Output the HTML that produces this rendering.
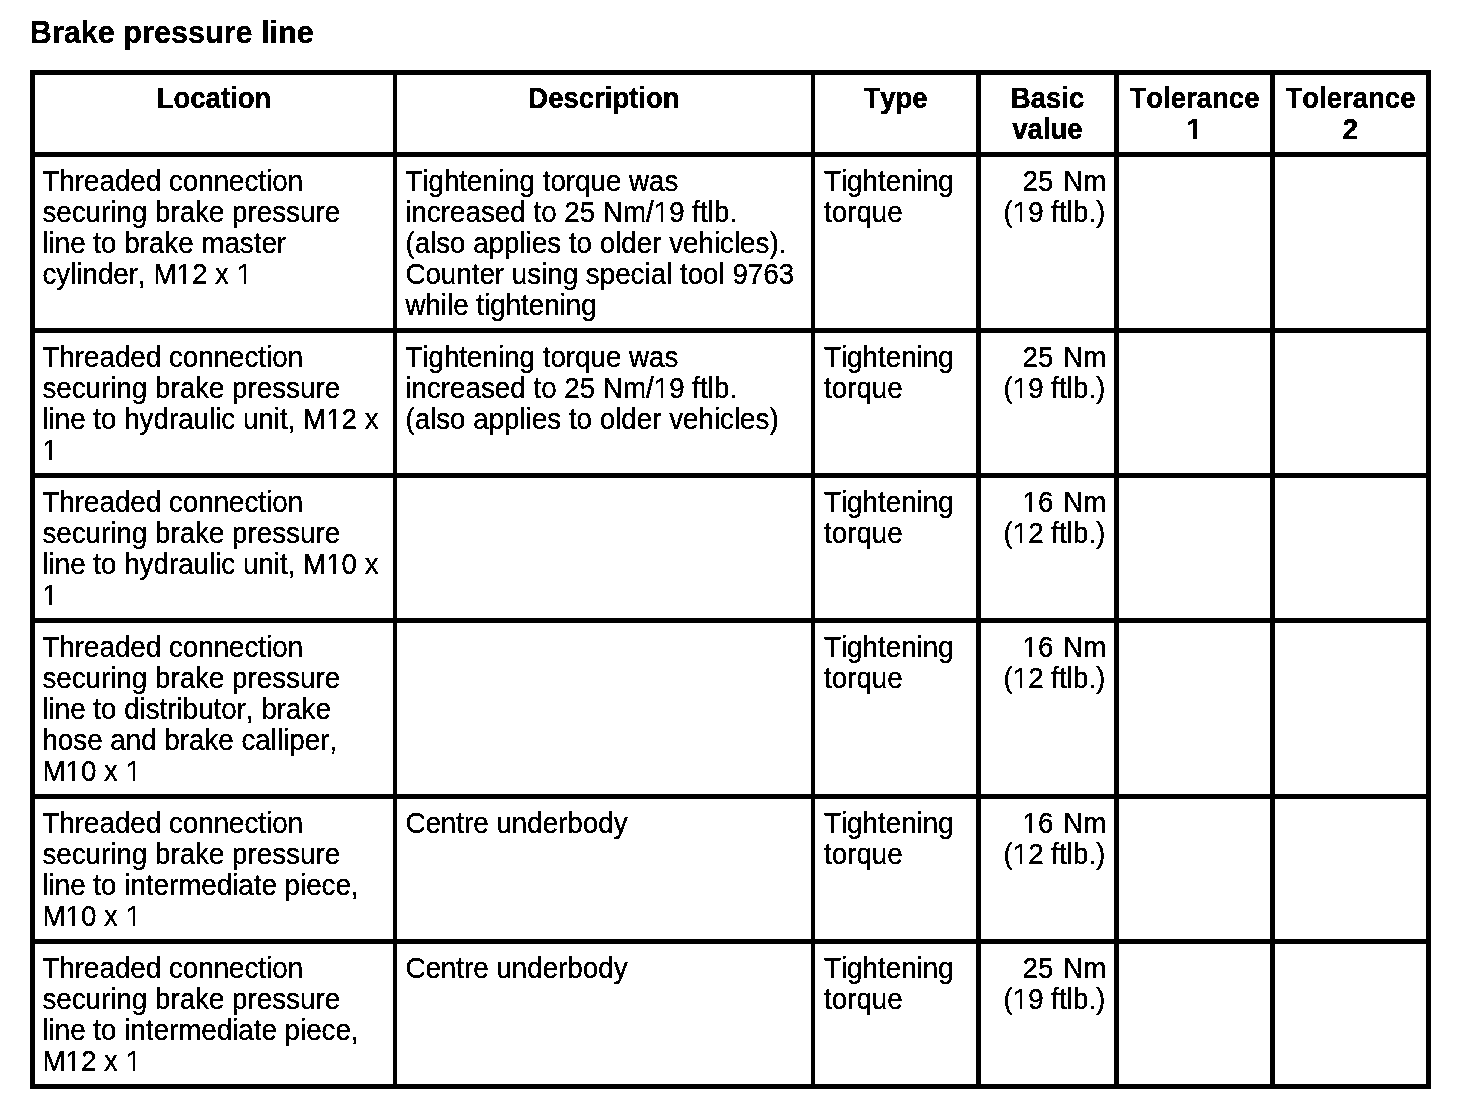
<!DOCTYPE html><html lang="en"><head><meta charset="utf-8"><title>Brake pressure line</title><style>
html,body{margin:0;padding:0;background:#fff;}
body{width:1472px;height:1118px;position:relative;overflow:hidden;font-family:"Liberation Sans",Arial,Helvetica,sans-serif;color:#000;font-kerning:none;font-variant-ligatures:none;}
.l{position:absolute;background:#000;}
.t,h1{filter:url(#bw);}
.t{position:absolute;white-space:nowrap;font-size:27.75px;transform-origin:0 0;}
.b{line-height:29.000px;transform:scaleY(1.0689655172413792);-webkit-text-stroke:0.3px #000;}
.h{font-size:27.5px;font-weight:bold;text-align:center;line-height:29.000px;transform:scaleY(1.0689655172413792);-webkit-text-stroke:0.35px #000;}
.r{text-align:right;}
.c{position:absolute;background:#fff;}
h1{position:absolute;margin:0;left:29.8px;top:14px;font-size:30.6px;line-height:36px;font-weight:bold;white-space:nowrap;-webkit-text-stroke:0.3px #000;}
</style></head><body>
<svg width="0" height="0" style="position:absolute"><filter id="bw" x="-5%" y="-25%" width="110%" height="150%" color-interpolation-filters="sRGB"><feComponentTransfer><feFuncA type="discrete" tableValues="0 1"/></feComponentTransfer></filter></svg>
<h1>Brake pressure line</h1>
<div class="l" style="left:30px;top:70px;width:5px;height:1019px"></div>
<div class="l" style="left:393px;top:70px;width:4px;height:1019px"></div>
<div class="l" style="left:811px;top:70px;width:4px;height:1019px"></div>
<div class="l" style="left:976px;top:70px;width:5px;height:1019px"></div>
<div class="l" style="left:1114px;top:70px;width:5px;height:1019px"></div>
<div class="l" style="left:1270px;top:70px;width:5px;height:1019px"></div>
<div class="l" style="left:1426px;top:70px;width:5px;height:1019px"></div>
<div class="l" style="left:30px;top:70px;width:1401px;height:5px"></div>
<div class="l" style="left:30px;top:152px;width:1401px;height:5px"></div>
<div class="l" style="left:30px;top:328px;width:1401px;height:5px"></div>
<div class="l" style="left:30px;top:473px;width:1401px;height:5px"></div>
<div class="l" style="left:30px;top:618px;width:1401px;height:5px"></div>
<div class="l" style="left:30px;top:794px;width:1401px;height:5px"></div>
<div class="l" style="left:30px;top:939px;width:1401px;height:5px"></div>
<div class="l" style="left:30px;top:1084px;width:1401px;height:5px"></div>
<div class="t h" style="left:35px;width:358px;top:82.1px">Location</div>
<div class="t h" style="left:397px;width:414px;top:82.1px">Description</div>
<div class="t h" style="left:815px;width:161px;top:82.1px">Type</div>
<div class="t h" style="left:981px;width:133px;top:82.1px">Basic<br>value</div>
<div class="t h" style="left:1119px;width:151px;top:82.1px">Tolerance<br>1</div>
<div class="t h" style="left:1275px;width:151px;top:82.1px">Tolerance<br>2</div>
<div class="t b" style="left:42.4px;top:164.8px">Threaded connection<br>securing brake pressure<br>line to brake master<br>cylinder, M12 x 1</div>
<div class="t b" style="left:405.4px;top:164.8px">Tightening torque was<br>increased to 25 Nm/19 ftlb.<br>(also applies to older vehicles).<br>Counter using special tool 9763<br>while tightening</div>
<div class="t b" style="left:824.0px;top:164.8px">Tightening<br>torque</div>
<div class="t b r" style="left:981px;width:125.3px;top:164.8px"><span style="word-spacing:2px">25 Nm</span><br><span style="margin-right:1px">(19 ftlb.)</span></div>
<div class="t b" style="left:42.4px;top:340.8px">Threaded connection<br>securing brake pressure<br>line to hydraulic unit, M12 x<br>1</div>
<div class="t b" style="left:405.4px;top:340.8px">Tightening torque was<br>increased to 25 Nm/19 ftlb.<br>(also applies to older vehicles)</div>
<div class="t b" style="left:824.0px;top:340.8px">Tightening<br>torque</div>
<div class="t b r" style="left:981px;width:125.3px;top:340.8px"><span style="word-spacing:2px">25 Nm</span><br><span style="margin-right:1px">(19 ftlb.)</span></div>
<div class="t b" style="left:42.4px;top:485.8px">Threaded connection<br>securing brake pressure<br>line to hydraulic unit, M10 x<br>1</div>
<div class="t b" style="left:824.0px;top:485.8px">Tightening<br>torque</div>
<div class="t b r" style="left:981px;width:125.3px;top:485.8px"><span style="word-spacing:2px">16 Nm</span><br><span style="margin-right:1px">(12 ftlb.)</span></div>
<div class="t b" style="left:42.4px;top:630.8px">Threaded connection<br>securing brake pressure<br>line to distributor, brake<br>hose and brake calliper,<br>M10 x 1</div>
<div class="t b" style="left:824.0px;top:630.8px">Tightening<br>torque</div>
<div class="t b r" style="left:981px;width:125.3px;top:630.8px"><span style="word-spacing:2px">16 Nm</span><br><span style="margin-right:1px">(12 ftlb.)</span></div>
<div class="t b" style="left:42.4px;top:806.8px">Threaded connection<br>securing brake pressure<br>line to intermediate piece,<br>M10 x 1</div>
<div class="t b" style="left:405.4px;top:806.8px">Centre underbody</div>
<div class="t b" style="left:824.0px;top:806.8px">Tightening<br>torque</div>
<div class="t b r" style="left:981px;width:125.3px;top:806.8px"><span style="word-spacing:2px">16 Nm</span><br><span style="margin-right:1px">(12 ftlb.)</span></div>
<div class="t b" style="left:42.4px;top:951.8px">Threaded connection<br>securing brake pressure<br>line to intermediate piece,<br>M12 x 1</div>
<div class="t b" style="left:405.4px;top:951.8px">Centre underbody</div>
<div class="t b" style="left:824.0px;top:951.8px">Tightening<br>torque</div>
<div class="t b r" style="left:981px;width:125.3px;top:951.8px"><span style="word-spacing:2px">25 Nm</span><br><span style="margin-right:1px">(19 ftlb.)</span></div>
<div class="c" style="left:1188px;top:136px;width:5px;height:3px"></div>
<div class="c" style="left:1197px;top:136px;width:5px;height:3px"></div>
<div class="c" style="left:178px;top:281px;width:5px;height:3px"></div>
<div class="c" style="left:186px;top:281px;width:5px;height:3px"></div>
<div class="c" style="left:239px;top:281px;width:5px;height:3px"></div>
<div class="c" style="left:246px;top:281px;width:5px;height:3px"></div>
<div class="c" style="left:656px;top:219px;width:5px;height:3px"></div>
<div class="c" style="left:663px;top:219px;width:5px;height:3px"></div>
<div class="c" style="left:1015px;top:219px;width:5px;height:3px"></div>
<div class="c" style="left:1022px;top:219px;width:5px;height:3px"></div>
<div class="c" style="left:328px;top:426px;width:5px;height:3px"></div>
<div class="c" style="left:336px;top:426px;width:5px;height:3px"></div>
<div class="c" style="left:44px;top:457px;width:5px;height:3px"></div>
<div class="c" style="left:52px;top:457px;width:5px;height:3px"></div>
<div class="c" style="left:656px;top:395px;width:5px;height:3px"></div>
<div class="c" style="left:663px;top:395px;width:5px;height:3px"></div>
<div class="c" style="left:1015px;top:395px;width:5px;height:3px"></div>
<div class="c" style="left:1022px;top:395px;width:5px;height:3px"></div>
<div class="c" style="left:328px;top:571px;width:5px;height:3px"></div>
<div class="c" style="left:336px;top:571px;width:5px;height:3px"></div>
<div class="c" style="left:44px;top:602px;width:5px;height:3px"></div>
<div class="c" style="left:52px;top:602px;width:5px;height:3px"></div>
<div class="c" style="left:1024px;top:509px;width:5px;height:3px"></div>
<div class="c" style="left:1032px;top:509px;width:5px;height:3px"></div>
<div class="c" style="left:1015px;top:540px;width:5px;height:3px"></div>
<div class="c" style="left:1022px;top:540px;width:5px;height:3px"></div>
<div class="c" style="left:67px;top:778px;width:5px;height:3px"></div>
<div class="c" style="left:75px;top:778px;width:5px;height:3px"></div>
<div class="c" style="left:128px;top:778px;width:5px;height:3px"></div>
<div class="c" style="left:135px;top:778px;width:5px;height:3px"></div>
<div class="c" style="left:1024px;top:654px;width:5px;height:3px"></div>
<div class="c" style="left:1032px;top:654px;width:5px;height:3px"></div>
<div class="c" style="left:1015px;top:685px;width:5px;height:3px"></div>
<div class="c" style="left:1022px;top:685px;width:5px;height:3px"></div>
<div class="c" style="left:67px;top:923px;width:5px;height:3px"></div>
<div class="c" style="left:75px;top:923px;width:5px;height:3px"></div>
<div class="c" style="left:128px;top:923px;width:5px;height:3px"></div>
<div class="c" style="left:135px;top:923px;width:5px;height:3px"></div>
<div class="c" style="left:1024px;top:830px;width:5px;height:3px"></div>
<div class="c" style="left:1032px;top:830px;width:5px;height:3px"></div>
<div class="c" style="left:1015px;top:861px;width:5px;height:3px"></div>
<div class="c" style="left:1022px;top:861px;width:5px;height:3px"></div>
<div class="c" style="left:67px;top:1068px;width:5px;height:3px"></div>
<div class="c" style="left:75px;top:1068px;width:5px;height:3px"></div>
<div class="c" style="left:128px;top:1068px;width:5px;height:3px"></div>
<div class="c" style="left:135px;top:1068px;width:5px;height:3px"></div>
<div class="c" style="left:1015px;top:1006px;width:5px;height:3px"></div>
<div class="c" style="left:1022px;top:1006px;width:5px;height:3px"></div>
</body></html>
